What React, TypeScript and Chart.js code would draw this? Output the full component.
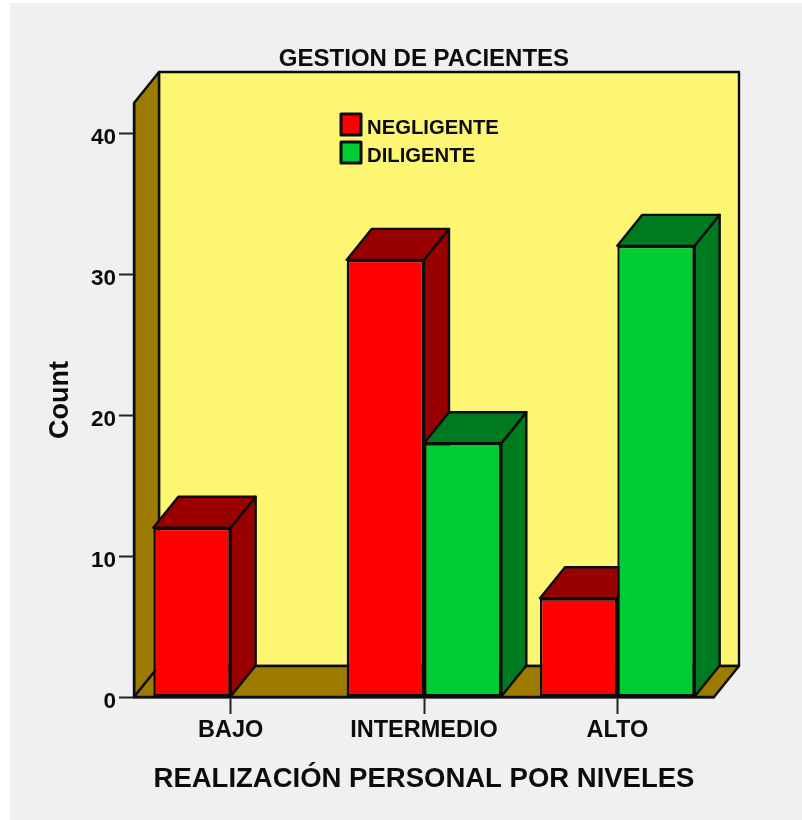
import React, { useEffect, useRef } from "react";
import { Chart, registerables } from "chart.js";

Chart.register(...registerables);

const categories = ["BAJO", "INTERMEDIO", "ALTO"];
const negligente = [12, 31, 7];
const diligente = [null, 18, 32];
const yTicks = [0, 10, 20, 30, 40];
const seriesNames = ["NEGLIGENTE", "DILIGENTE"];
const frontColors = ["#ff0000", "#00cc33"];
const darkColors = ["#990000", "#007a1f"];

const FONT = "'Liberation Sans', Arial, sans-serif";
const INK = "#0c0c0c";
const DX = 25;
const DY = 31;
const LINE = 2.4;

function poly(ctx: CanvasRenderingContext2D, pts: number[][], fill: string, lw = LINE) {
  ctx.beginPath();
  pts.forEach(([x, y], i) => (i ? ctx.lineTo(x, y) : ctx.moveTo(x, y)));
  ctx.closePath();
  ctx.fillStyle = fill;
  ctx.fill();
  ctx.lineWidth = lw;
  ctx.strokeStyle = INK;
  ctx.lineJoin = "round";
  ctx.stroke();
}

const scenePlugin = {
  id: "scene",
  beforeDraw(chart: any) {
    const { ctx, chartArea: a, width, height } = chart;
    ctx.save();
    ctx.fillStyle = "#f0f0f0";
    ctx.fillRect(10, 3, width - 10, height - 3);
    poly(ctx, [[a.left + DX, a.top - DY], [a.right + DX, a.top - DY], [a.right + DX, a.bottom - DY], [a.left + DX, a.bottom - DY]], "#fcf672");
    poly(ctx, [[a.left, a.top], [a.left + DX, a.top - DY], [a.left + DX, a.bottom - DY], [a.left, a.bottom]], "#9c7b00");
    poly(ctx, [[a.left, a.bottom], [a.left + DX, a.bottom - DY], [a.right + DX, a.bottom - DY], [a.right, a.bottom]], "#9c7b00");
    ctx.restore();
  },
  beforeDatasetsDraw(chart: any) {
    const { ctx } = chart;
    ctx.save();
    categories.forEach((_, j) => {
      chart.data.datasets.forEach((ds: any, i: number) => {
        if (ds.data[j] == null) return;
        const bar = chart.getDatasetMeta(i).data[j] as any;
        const l = bar.x - bar.width / 2;
        const r = bar.x + bar.width / 2;
        poly(ctx, [[r, bar.y], [r + DX, bar.y - DY], [r + DX, bar.base - DY], [r, bar.base]], darkColors[i]);
        poly(ctx, [[l, bar.y], [l + DX, bar.y - DY], [r + DX, bar.y - DY], [r, bar.y]], darkColors[i]);
      });
    });
    ctx.restore();
  },
  afterDraw(chart: any) {
    const { ctx, chartArea: a } = chart;
    ctx.save();
    ctx.font = `bold 20.3px ${FONT}`;
    ctx.textBaseline = "middle";
    ctx.textAlign = "left";
    chart.data.datasets.forEach((ds: any, i: number) => {
      const x = a.left + 207;
      const y = a.top + 11 + i * 28;
      poly(ctx, [[x, y], [x + 20, y], [x + 20, y + 21], [x, y + 21]], ds.backgroundColor, 3);
      ctx.fillStyle = INK;
      ctx.fillText(ds.label, x + 26, y + 14);
    });
    ctx.restore();
  },
};

export default function App() {
  const ref = useRef<HTMLCanvasElement>(null);
  useEffect(() => {
    const chart = new Chart(ref.current!, {
      type: "bar",
      data: {
        labels: categories,
        datasets: [
          { label: seriesNames[0], data: negligente, backgroundColor: frontColors[0], borderColor: INK, borderWidth: LINE, borderSkipped: false },
          { label: seriesNames[1], data: diligente, backgroundColor: frontColors[1], borderColor: INK, borderWidth: LINE, borderSkipped: false },
        ],
      },
      plugins: [scenePlugin],
      options: {
        responsive: false,
        animation: false,
        devicePixelRatio: 1,
        layout: { padding: { left: 0, right: 88, top: 0, bottom: 0 } },
        datasets: { bar: { barPercentage: 1, categoryPercentage: 0.8 } },
        plugins: {
          legend: { display: false },
          tooltip: { enabled: false },
          title: {
            display: true,
            text: "GESTION DE PACIENTES",
            fullSize: false,
            color: INK,
            font: { family: FONT, size: 24, weight: "bold", lineHeight: 1.2 },
            padding: { top: 45, bottom: 29.2 },
          },
        },
        scales: {
          x: {
            afterFit: (s: any) => { s.height = 123; },
            grid: { offset: false, drawOnChartArea: false, tickLength: 17, tickColor: "#222222", tickWidth: 2 },
            border: { color: INK, width: 2.4 },
            ticks: { color: INK, padding: 2, maxRotation: 0, font: { family: FONT, size: 23.5, weight: "bold" } },
            title: {
              display: true,
              text: "REALIZACIÓN PERSONAL POR NIVELES",
              color: INK,
              font: { family: FONT, size: 27.5, weight: "bold", lineHeight: 1.2 },
              padding: { top: 0, bottom: 24 },
            },
          },
          y: {
            min: 0,
            max: 42.13,
            afterFit: (s: any) => { s.width = 134; },
            afterBuildTicks: (s: any) => { s.ticks = yTicks.map((value) => ({ value })); },
            grid: { drawOnChartArea: false, tickLength: 15, tickColor: "#222222", tickWidth: 2 },
            border: { color: INK, width: 2.4 },
            ticks: { color: INK, padding: 3, labelOffset: 5, font: { family: FONT, size: 22.5, weight: "bold" } },
            title: {
              display: true,
              text: "Count",
              color: INK,
              font: { family: FONT, size: 27, weight: "bold", lineHeight: 1.2 },
              padding: { top: 44, bottom: 0 },
            },
          },
        },
      } as any,
    });
    return () => chart.destroy();
  }, []);
  return (
    <div style={{ position: "absolute", left: 0, top: 0, width: 802, height: 820, overflow: "hidden", background: "#ffffff" }}>
      <canvas ref={ref} width={802} height={820} style={{ display: "block", filter: "blur(0.4px)" }} />
    </div>
  );
}
